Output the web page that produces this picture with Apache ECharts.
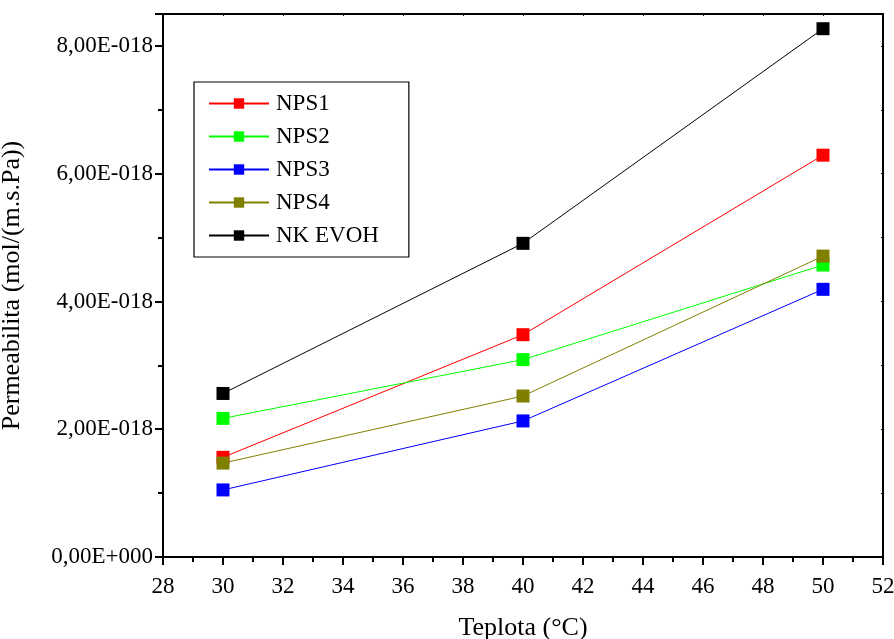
<!DOCTYPE html>
<html>
<head>
<meta charset="utf-8">
<script src="https://cdn.jsdelivr.net/npm/echarts@6/dist/echarts.min.js"></script>
<style>html,body{margin:0;padding:0;background:#fff}#c{width:894px;height:639px}</style>
</head>
<body>
<div id="c"></div>
<script>
var temperatures = [30, 40, 50];
var seriesNames = ['NPS1', 'NPS2', 'NPS3', 'NPS4', 'NK EVOH'];
var nps1 = [1.56e-18, 3.48e-18, 6.29e-18];
var nps2 = [2.17e-18, 3.09e-18, 4.57e-18];
var nps3 = [1.05e-18, 2.13e-18, 4.19e-18];
var nps4 = [1.47e-18, 2.52e-18, 4.71e-18];
var nkEvoh = [2.56e-18, 4.91e-18, 8.27e-18];
var seriesColors = ['#ff0000', '#00ff00', '#0000ff', '#808000', '#000000'];
var allValues = [nps1, nps2, nps3, nps4, nkEvoh];

var font = 'Liberation Serif';

function fmtY(v) {
  if (Math.abs(v) < 1e-30) return '0,00E+000';
  var m = v / 1e-18;
  return m.toFixed(2).replace('.', ',') + 'E-018';
}

var chart = echarts.init(document.getElementById('c'), null, {renderer: 'canvas'});

var series = seriesNames.map(function (name, i) {
  return {
    name: name,
    type: 'line',
    data: temperatures.map(function (t, j) { return [t, allValues[i][j]]; }),
    symbol: 'rect',
    symbolSize: 13,
    lineStyle: {color: seriesColors[i], width: 1},
    itemStyle: {color: seriesColors[i]},
    z: 2 + i
  };
});

var option = {
  animation: false,
  backgroundColor: '#ffffff',
  textStyle: {fontFamily: font},
  grid: {left: 163, right: 11, top: 14, bottom: 82, containLabel: false, outerBoundsMode: 'none'},
  legend: {
    left: 194, top: 82,
    orient: 'vertical',
    itemGap: 10,
    itemWidth: 60, itemHeight: 13,
    padding: [10, 30, 10, 14],
    borderColor: '#000', borderWidth: 1.2,
    backgroundColor: '#fff',
    textStyle: {fontFamily: font, fontSize: 23, color: '#000', padding: [0, 0, 0, 2]},
    data: seriesNames
  },
  xAxis: [{
    type: 'value', min: 28, max: 52, interval: 2,
    name: 'Teplota (°C)', nameLocation: 'middle', nameGap: 58,
    nameTextStyle: {fontFamily: font, fontSize: 26, color: '#000'},
    axisLine: {show: true, onZero: false, lineStyle: {color: '#000', width: 2}},
    axisTick: {show: true, length: 8, lineStyle: {color: '#000', width: 2}},
    minorTick: {show: true, splitNumber: 2, length: 5, lineStyle: {color: '#000', width: 2}},
    axisLabel: {fontFamily: font, fontSize: 23, color: '#000', margin: 18},
    splitLine: {show: false}
  }, {
    type: 'value', position: 'top', min: 28, max: 52, interval: 2,
    axisLine: {show: true, onZero: false, lineStyle: {color: '#000', width: 2}},
    axisTick: {show: true, inside: true, length: 2, lineStyle: {color: '#000', width: 1}},
    axisLabel: {show: false},
    splitLine: {show: false}
  }],
  yAxis: [{
    type: 'value', min: 0, max: 8.5e-18, interval: 2e-18,
    name: 'Permeabilita (mol/(m.s.Pa))', nameLocation: 'middle', nameGap: 138,
    nameTextStyle: {fontFamily: font, fontSize: 26, color: '#000'},
    axisLine: {show: true, onZero: false, lineStyle: {color: '#000', width: 2}},
    axisTick: {show: true, length: 8, lineStyle: {color: '#000', width: 2}},
    minorTick: {show: true, splitNumber: 2, length: 5, lineStyle: {color: '#000', width: 2}},
    axisLabel: {fontFamily: font, fontSize: 23, color: '#000', margin: 10, formatter: fmtY, showMaxLabel: false},
    splitLine: {show: false}
  }, {
    type: 'value', position: 'right', min: 0, max: 8.5e-18, interval: 1e-18,
    axisLine: {show: true, onZero: false, lineStyle: {color: '#000', width: 2}},
    axisTick: {show: true, inside: true, length: 2, lineStyle: {color: '#000', width: 1}},
    axisLabel: {show: false},
    splitLine: {show: false}
  }],
  series: series
};
chart.setOption(option);
</script>
</body>
</html>
